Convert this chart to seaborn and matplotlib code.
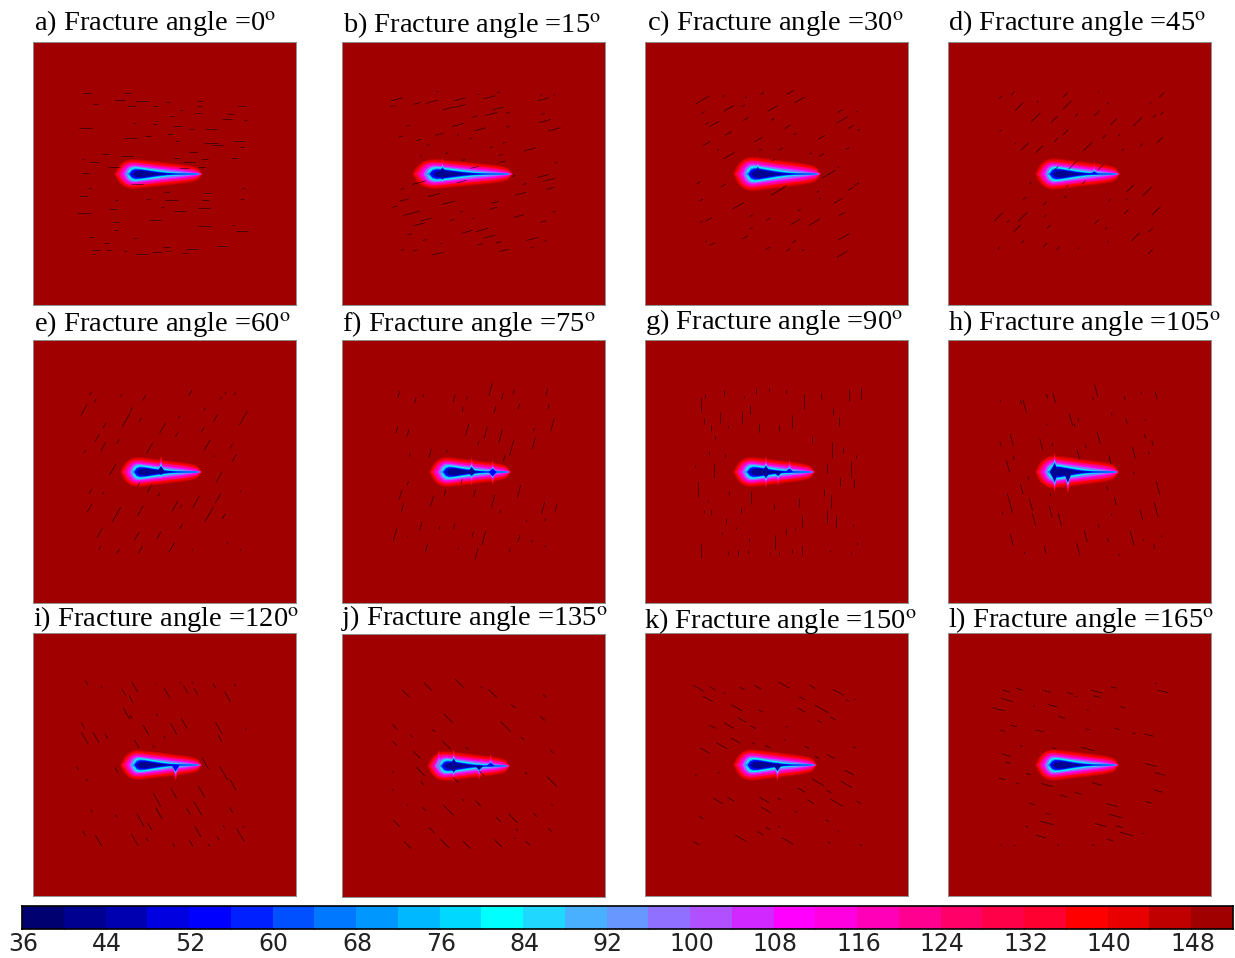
import numpy as np
import matplotlib
matplotlib.use("Agg")
import matplotlib.pyplot as plt
from matplotlib.colors import ListedColormap, BoundaryNorm
import seaborn as sns

# Colour levels of the temperature scale
level_edges = [36, 40, 44, 48, 52, 56, 60, 64, 68, 72, 76, 80, 84, 88, 92, 96, 100, 104,
               108, 112, 116, 120, 124, 128, 132, 136, 140, 144, 148, 152]
level_colors = ['#000070', '#000090', '#0000b0', '#0000e0', '#0000ff', '#0020ff', '#0050ff',
                '#0078ff', '#0098ff', '#00b8ff', '#00d8ff', '#00ffff', '#20d8ff', '#48b0ff',
                '#6898ff', '#9070ff', '#b050ff', '#d028ff', '#ff00ff', '#ff00e0', '#ff00b8',
                '#ff0090', '#ff0068', '#ff0048', '#ff0030', '#ff0000', '#e80000', '#c00000',
                '#a00000']
tick_labels = ['36', '44', '52', '60', '68', '76', '84', '92', '100', '108', '116', '124',
               '132', '140', '148']

# Panel titles
letters = ['a', 'b', 'c', 'd', 'e', 'f', 'g', 'h', 'i', 'j', 'k', 'l']
angles = [0, 15, 30, 45, 60, 75, 90, 105, 120, 135, 150, 165]

# Plume half widths (px) along the plume, one list per temperature level
stations = [0, .02, .05, .08, .11, .14, .17, .2, .24, .3, .4, .5, .6, .7, .8, .9, .95, .98, 1]
plume_levels = {
    146: [0, 5, 8.5, 11, 12.8, 13.9, 14.6, 15, 15, 14.5, 13.5, 12.5, 11.5, 10.5, 9.5, 8, 6.5, 3.5, 0],
    142: [0, 2, 7, 9.7, 11.7, 12.9, 13.6, 14, 14, 13.5, 12.5, 11.5, 10.5, 9.5, 8.5, 7, 5.5, 2.5, 0],
    136: [0, 0, 5, 8.5, 10.7, 12, 12.7, 13, 13, 12.5, 11.5, 10.5, 9.5, 8.5, 7.5, 6, 4.5, 1.5, 0],
    128: [0, 0, 2.5, 6.5, 9.3, 10.8, 11.6, 12, 11.9, 11.3, 10.3, 9.3, 8.3, 7.3, 6.4, 5, 3.5, 1, 0],
    122: [0, 0, 0, 5, 8, 9.9, 10.8, 11.2, 11.1, 10.5, 9.5, 8.5, 7.5, 6.7, 5.7, 4.2, 3, .8, 0],
    114: [0, 0, 0, 0, 5, 7.6, 9, 9.6, 9.6, 9, 8, 7, 6, 5, 4, 2.5, 1.5, .3, 0],
    108: [0, 0, 0, 0, 3, 6.5, 8.2, 8.9, 8.9, 8.2, 7.2, 6.2, 5.2, 4.2, 3.2, 1.8, 1, .2, 0],
    98: [0, 0, 0, 0, 0, 5, 7.2, 8.2, 8.2, 7.6, 6.5, 5.5, 4.5, 3.5, 2.5, 1.2, .8, .2, 0],
    82: [0, 0, 0, 0, 0, 0, 4.5, 6.4, 6.8, 6.3, 5, 3.8, 2.5, 1.6, 1, .6, .4, 0, 0],
    70: [0, 0, 0, 0, 0, 0, 2, 5, 5.7, 5.2, 3.9, 2.7, 1.6, 1, .7, .5, .3, 0, 0],
    54: [0, 0, 0, 0, 0, 0, 0, 3.4, 4.7, 4.5, 3.2, 1.9, 1, .5, .4, .3, .2, 0, 0],
    40: [0, 0, 0, 0, 0, 0, 0, 0, 2.8, 3.5, 2.2, 1, .3, 0, 0, 0, 0, 0, 0],
}

# Outer left end and tip of each plume (px inside the panel), and width factor
plume_left = [81, 70, 88, 87, 87, 87, 88, 87, 87, 85, 88, 87]
plume_tip = [168.5, 170, 175, 171, 168, 168, 169, 170, 168, 167, 171, 170]
plume_width = [1.0, 1.0, 1.15, 1.05, 1.0, 1.0, 1.0, 1.1, 1.0, 1.0, 1.05, 1.05]

# Side spikes of each plume: position along plume, extent up, extent down (px)
plume_spikes = [
    [],
    [(.3, 2, 1)],
    [(.28, 2, 0)],
    [(.7, 2, 0)],
    [(.5, 4, 1)],
    [(.52, 3, 2), (.78, 3, 4)],
    [(.4, 3, 3), (.55, 0, 3), (.69, 3, 0)],
    [(.23, 4, 5), (.39, 0, 7)],
    [(.68, 0, 6)],
    [(.14, 3, 0), (.32, 3, 2), (.63, 0, 3), (.77, 3, 0)],
    [(.53, 0, 4)],
    [],
]

# Fractures: x, y, length in px
frac_a = [(155,160,8),(265,160,7),(245,181,10),(305,184,12),(178,193,5),(275,199,8),(375,186,4),(460,184,6),(340,199,5),(410,210,3),(543,222,7),(575,198,8),(460,197,5),(455,220,6),(385,228,4),(535,238,10),(583,240,3),(345,242,2),(400,258,9),(285,250,3),(152,265,13),(490,268,12),(438,268,5),(340,253,4),(380,283,6),(320,287,6),(272,294,13),(490,309,14),(510,315,12),(565,304,11),(573,322,4),(398,304,4),(442,335,8),(205,342,7),(265,348,12),(145,358,2),(175,367,9),(430,365,12),(555,353,7),(398,355,5),(472,357,7),(230,382,12),(418,385,10),(465,382,7),(153,400,7),(290,433,12),(163,445,3),(145,469,9),(370,455,5),(578,443,3),(480,460,7),(385,481,13),(475,481,7),(575,478,4),(320,478,4),(235,480,3),(148,520,14),(408,513,12),(473,505,12),(225,506,8),(340,541,12),(235,545,6),(473,558,13),(575,572,12),(235,570,4),(168,590,5),(285,595,4),(520,618,10),(440,627,12),(370,622,7),(305,643,12),(345,637,10),(180,631,8),(420,640,6),(375,633,5),(215,630,5),(172,642,3),(260,632,3),(208,610,5),(360,500,3),(550,555,2)]
frac_b = [(990,178,12),(1085,185,13),(1160,178,12),(1240,172,12),(1045,190,7),(1265,157,3),(1100,155,2),(1210,163,2),(980,198,5),(1130,205,12),(1160,198,12),(1265,205,12),(1245,222,12),(1385,178,12),(1415,165,2),(1380,165,2),(1200,230,5),(1290,218,3),(1385,222,3),(1155,255,12),(1215,268,12),(1290,260,4),(1390,243,12),(1415,268,13),(1020,257,3),(1000,290,4),(1050,300,6),(1105,283,8),(1155,285,2),(1190,295,3),(1075,315,3),(1350,328,13),(1280,308,3),(1245,322,3),(1125,340,3),(1170,360,3),(1270,345,4),(1275,365,6),(1420,368,3),(1055,348,2),(1200,382,9),(1305,408,4),(1385,408,12),(1400,420,12),(1335,432,4),(1050,428,14),(1165,425,10),(1090,465,12),(1005,447,4),(1405,445,8),(1325,461,12),(1010,480,9),(1130,488,14),(1255,487,7),(985,500,5),(1250,505,8),(1030,520,17),(1165,515,3),(1320,528,10),(1415,515,3),(1070,538,12),(1050,553,12),(1140,540,4),(1195,535,2),(1385,545,6),(1180,575,11),(1220,570,13),(1025,583,5),(1240,590,12),(1355,597,12),(1390,603,3),(1065,600,4),(1265,607,6),(1215,613,5),(1005,630,3),(1040,631,4),(1100,641,12),(1280,631,10),(1355,622,3),(1110,610,2)]
frac_c = [(168,180,15),(240,205,12),(278,197,4),(330,160,4),(405,157,8),(430,180,12),(358,205,12),(225,168,2),(285,172,2),(170,218,4),(200,252,11),(180,251,4),(285,237,6),(238,280,8),(398,260,7),(358,238,4),(545,240,13),(540,213,6),(585,215,2),(570,260,7),(590,270,3),(490,292,8),(418,282,3),(320,298,10),(180,310,8),(240,347,13),(380,327,5),(325,330,3),(210,330,2),(460,340,3),(490,345,6),(560,325,4),(360,360,4),(510,402,15),(535,382,2),(158,428,4),(225,436,6),(370,455,14),(390,440,5),(480,455,3),(570,445,8),(585,432,5),(165,480,4),(265,497,13),(535,482,10),(485,475,2),(430,510,3),(545,522,7),(185,538,8),(165,545,3),(345,538,4),(420,545,11),(470,547,13),(300,527,3),(283,592,7),(550,590,13),(195,612,6),(178,604,2),(345,625,5),(400,630,5),(440,630,3),(545,643,12),(415,605,5),(300,565,3)]
frac_d = [(1013,160,5),(980,172,4),(1155,165,6),(1245,157,1),(1415,165,7),(1030,200,12),(1080,185,2),(1160,195,12),(1270,190,3),(1385,188,2),(1075,232,13),(1125,238,9),(1185,225,4),(1240,220,8),(1350,245,12),(1395,228,4),(1415,220,4),(1285,245,9),(980,272,3),(1155,277,8),(1260,290,5),(1410,300,9),(1045,320,11),(1130,300,5),(1215,320,13),(1085,327,10),(1020,310,2),(1300,285,3),(1360,315,4),(1310,330,3),(1250,382,8),(1175,375,12),(1130,385,6),(1060,430,3),(1160,438,3),(1205,427,5),(1330,445,10),(1375,455,13),(1045,475,4),(1100,490,5),(1155,470,3),(1320,478,3),(975,530,12),(1040,530,13),(1000,545,3),(1100,528,2),(1275,480,3),(1320,515,6),(1400,513,12),(1240,545,6),(1025,565,10),(1110,560,5),(1265,565,3),(1345,590,12),(1385,570,6),(975,625,3),(1040,605,4),(1100,615,6),(1135,625,5),(1190,625,2),(1270,605,2),(1385,635,6)]
frac_e = [(165,168,4),(178,188,4),(148,215,13),(248,172,3),(310,180,6),(435,165,7),(530,165,2),(555,167,3),(517,180,3),(262,245,16),(275,215,5),(203,262,6),(300,245,4),(360,270,12),(405,237,3),(468,275,5),(503,240,8),(473,214,3),(578,240,16),(183,300,9),(150,340,3),(200,325,10),(240,310,5),(398,290,5),(325,330,12),(480,322,13),(545,325,5),(553,360,8),(500,355,2),(225,395,13),(512,418,12),(295,440,5),(325,450,10),(165,460,6),(200,465,2),(163,510,10),(235,530,18),(410,505,4),(393,505,12),(300,518,12),(450,492,13),(510,480,12),(570,460,2),(485,530,17),(525,535,6),(190,585,11),(290,595,10),(350,592,9),(410,565,6),(190,630,4),(240,640,6),(300,635,8),(385,628,11),(440,635,2),(535,615,2),(570,635,2),(350,470,4)]
frac_f = [(995,170,7),(1040,187,6),(1062,173,3),(1243,155,13),(1275,175,7),(1305,162,6),(1395,162,7),(1145,180,8),(1180,180,3),(1168,215,5),(1255,215,7),(1320,205,6),(1400,205,5),(990,275,7),(1020,285,8),(1180,275,12),(1230,285,12),(1270,295,14),(1410,260,13),(1360,275,3),(1300,330,16),(1360,315,12),(1210,315,4),(1025,350,4),(1080,345,9),(1125,340,3),(1280,360,7),(1020,435,4),(1000,470,10),(1165,430,5),(1120,465,7),(1200,465,8),(1250,490,13),(1320,460,13),(1385,510,12),(1420,510,8),(1005,510,9),(1085,490,11),(1270,520,3),(1390,545,3),(985,590,13),(1055,565,9),(1105,570,3),(1145,565,6),(1195,590,6),(1225,600,14),(1320,600,7),(1355,610,3),(1020,595,2),(1070,630,9),(1205,647,12),(1155,632,2),(1295,637,3),(1390,625,2),(1340,550,2)]
frac_g = [(163,200,15),(175,175,4),(227,165,6),(280,178,2),(312,160,6),(348,155,3),(395,160,3),(442,190,15),(488,175,6),(565,170,12),(595,165,12),(215,240,11),(275,240,11),(297,215,9),(320,270,8),(172,250,6),(192,270,6),(238,267,3),(410,252,13),(375,270,6),(520,220,7),(537,250,9),(465,305,7),(203,300,3),(228,353,3),(518,335,16),(185,345,4),(200,400,14),(148,385,2),(548,335,6),(505,390,10),(582,355,3),(568,395,17),(155,452,16),(240,465,4),(300,480,13),(430,495,9),(497,465,7),(540,432,9),(578,437,9),(183,490,2),(515,490,13),(272,517,6),(190,523,6),(172,520,3),(360,505,5),(233,550,6),(436,550,12),(505,535,13),(530,550,12),(575,562,2),(363,612,14),(395,580,7),(418,572,2),(293,605,4),(165,640,14),(238,645,4),(265,645,6),(292,640,3),(350,645,2),(375,645,4),(410,640,4),(437,637,10),(512,638,2),(570,645,2),(585,615,3),(222,585,2),(260,570,2)]
frac_h = [(1238,158,13),(1045,205,13),(1035,192,5),(1105,175,5),(1125,180,10),(1230,183,3),(1315,180,4),(1360,165,2),(1400,172,8),(980,190,2),(1170,245,13),(1190,245,4),(1180,262,3),(1105,260,2),(1280,228,3),(1320,250,6),(1370,245,2),(1010,305,12),(1090,320,12),(980,318,6),(1245,300,12),(1120,320,3),(1210,325,3),(1370,295,5),(1390,315,5),(1340,345,12),(1380,345,3),(1190,350,10),(1275,365,9),(1015,360,4),(1000,385,12),(1055,420,3),(1340,405,3),(1037,453,11),(1115,470,3),(1268,450,5),(1405,450,14),(1005,495,20),(1062,500,12),(1115,520,12),(1140,545,13),(1070,545,13),(985,525,3),(1290,490,8),(1360,530,11),(1400,515,15),(1280,530,2),(1010,605,12),(1210,595,12),(1245,565,4),(1335,600,15),(1270,605,4),(1395,625,5),(1100,635,8),(1190,635,13),(1045,645,2),(1300,650,2),(1365,605,2),(1415,595,2)]
frac_i = [(155,158,5),(195,170,2),(285,172,12),(255,187,8),(275,208,8),(372,190,12),(422,178,8),(450,185,8),(500,168,5),(535,200,12),(555,165,3),(342,163,1),(408,158,2),(440,158,2),(262,250,13),(275,260,4),(345,255,3),(315,300,12),(390,297,13),(418,280,12),(512,295,14),(145,287,7),(150,325,14),(180,322,13),(208,318,6),(290,342,9),(365,322,3),(515,325,7),(585,298,2),(335,350,3),(130,415,3),(235,420,6),(475,400,13),(525,430,16),(155,450,3),(550,465,13),(345,510,15),(390,490,11),(350,550,13),(465,485,13),(455,535,16),(300,570,15),(325,590,8),(168,542,3),(235,558,3),(430,545,7),(545,540,6),(148,610,5),(187,632,13),(285,630,13),(318,628,4),(390,645,4),(455,605,13),(437,640,7),(485,645,3),(510,625,4),(570,615,15),(525,590,3),(578,590,2)]
frac_j = [(1015,190,12),(1075,170,12),(1160,160,12),(1250,190,12),(1220,172,3),(1390,198,4),(1130,265,13),(1305,228,6),(1385,265,6),(1285,290,15),(985,290,8),(1030,318,3),(1330,325,4),(1090,302,4),(1125,345,11),(985,340,6),(1410,365,6),(1045,375,10),(1180,355,4),(1055,425,12),(980,425,3),(1150,450,7),(1220,430,8),(1340,430,3),(1410,455,14),(980,480,3),(1060,460,5),(1130,540,15),(1065,537,5),(1210,520,8),(1305,565,13),(1265,568,7),(1365,555,5),(990,580,10),(1085,600,8),(1020,645,10),(1120,640,13),(1180,645,11),(1265,640,11),(1345,640,6),(1405,600,5),(1315,600,3),(1020,525,2),(1170,510,3),(1410,525,2),(1310,625,2)]
frac_k = [(158,175,12),(195,175,7),(275,175,6),(318,172,8),(388,165,12),(465,170,7),(535,187,12),(183,207,11),(228,190,2),(260,233,13),(325,243,5),(438,205,7),(435,240,9),(490,237,16),(520,265,6),(560,212,3),(580,208,2),(275,270,10),(240,287,11),(305,292,6),(195,290,7),(485,275,4),(395,290,2),(258,332,11),(305,340,3),(345,350,6),(220,347,12),(450,352,5),(578,352,3),(175,362,11),(390,330,2),(515,380,8),(478,382,5),(565,428,11),(150,435,2),(212,428,2),(480,457,14),(435,480,8),(557,463,13),(510,485,5),(210,513,11),(245,508,8),(335,510,11),(375,507,4),(460,515,8),(530,518,15),(590,517,5),(340,540,12),(165,563,5),(420,545,3),(505,572,4),(345,595,5),(325,610,7),(272,625,13),(398,633,13),(152,640,7),(595,645,3),(510,638,3),(535,603,2),(375,590,2)]
frac_l = [(995,183,8),(1032,178,7),(1105,184,8),(1168,190,6),(1240,185,12),(1240,200,7),(1285,172,6),(1418,184,11),(1400,160,2),(997,210,12),(975,238,13),(1120,227,10),(1070,228,2),(1145,262,7),(1310,232,5),(1185,200,2),(1215,240,2),(1015,288,7),(985,302,5),(1085,303,8),(1215,298,4),(1295,297,5),(1380,315,10),(1035,348,3),(995,375,10),(1215,357,14),(1125,355,4),(1340,310,3),(1385,405,12),(1410,432,10),(1000,398,5),(1055,432,5),(985,447,7),(1105,465,12),(1025,460,3),(1240,462,10),(1190,490,7),(1150,498,7),(1405,483,9),(1380,517,7),(1280,525,12),(1065,522,6),(1110,552,5),(1290,558,14),(1105,579,14),(1250,585,12),(1300,590,7),(1320,612,14),(1090,620,11),(1275,630,6),(1135,645,2),(1230,645,3),(1050,590,3),(980,645,2),(1020,647,2),(1365,610,2)]
fractures = [frac_a, frac_b, frac_c, frac_d, frac_e, frac_f, frac_g, frac_h, frac_i, frac_j, frac_k, frac_l]

# Offset of each panel's corner in the enlarged crops the fractures were read from
crop_x0 = [10, 842, 13, 838, 10, 842, 13, 838, 10, 843, 13, 838]
crop_y0 = [6, 6, 6, 6, 6, 6, 6, 6, 9, 12, 9, 9]

# Panel and title positions in px
panel_x = [33, 342, 645, 948, 33, 342, 645, 948, 33, 342, 645, 948]
panel_y = [42, 42, 42, 42, 340, 340, 340, 340, 633, 634, 633, 633]
title_x = [34, 343, 647, 948, 34, 342, 645, 948, 33, 341, 644, 948]
title_y = [30, 32, 30, 30, 331, 331, 329, 330, 626, 625, 628, 627]

W, H = 1235, 958
PANEL = 263

sns.set_theme(style='white')
plt.rcParams['font.family'] = ['Liberation Serif', 'DejaVu Serif']
plt.rcParams['mathtext.fontset'] = 'stix'

cmap = ListedColormap(level_colors)
norm = BoundaryNorm(level_edges, cmap.N)
fig = plt.figure(figsize=(W / 100, H / 100), dpi=100)


def px_axes(x, y, w, h):
    return fig.add_axes([x / W, 1 - (y + h) / H, w / W, h / H])


for i in range(12):
    ax = px_axes(panel_x[i], panel_y[i], PANEL, PANEL)
    # background field, one cell per px
    sns.heatmap(np.full((PANEL, PANEL), 150.0), cmap=cmap, norm=norm, cbar=False,
                xticklabels=False, yticklabels=False, ax=ax)

    # plume as nested temperature levels
    left, tip, scale = plume_left[i], plume_tip[i], plume_width[i]
    length = tip - left
    cy = PANEL / 2
    xs = left + np.array(stations) * length
    for level, half in plume_levels.items():
        half = np.array(half) * scale
        color = cmap(norm(level))
        ax.fill_between(xs, cy - half, cy + half, color=color, lw=0)
        for pos, up, down in plume_spikes[i]:
            h0 = half[np.argmin(np.abs(np.array(stations) - pos))]
            if h0 <= 0:
                continue
            sx = left + np.array([pos - .05, pos, pos + .05]) * length
            ax.fill_between(sx, [cy, cy - h0 - up, cy], [cy, cy + h0 + down, cy], color=color, lw=0)

    # fractures at the panel's angle
    rad = np.deg2rad(angles[i])
    for fx, fy, flen in fractures[i]:
        x0 = (fx - crop_x0[i]) / 2.7
        y0 = (fy - crop_y0[i]) / 3
        dx = flen / 2 * np.cos(rad)
        dy = flen / 2 * np.sin(rad)
        ax.plot([x0 - dx, x0 + dx], [y0 + dy, y0 - dy], color='#150000', lw=0.55, alpha=0.75,
                solid_capstyle='butt')

    ax.set_xlim(0, PANEL)
    ax.set_ylim(PANEL, 0)
    for spine in ax.spines.values():
        spine.set_visible(True)
        spine.set_color('#909090')
        spine.set_linewidth(0.7)

    fig.text(title_x[i] / W, 1 - title_y[i] / H,
             f'{letters[i]}) Fracture angle ={angles[i]}$^{{\\mathrm{{o}}}}$',
             fontsize=20.5, color='black', ha='left', va='baseline')

# Colour scale along the bottom
cax = px_axes(22, 906, 1211, 23)
sns.heatmap(np.array(level_edges[:-1]).reshape(1, -1) + 2.0, cmap=cmap, norm=norm, cbar=False,
            xticklabels=False, yticklabels=False, ax=cax)
for spine in cax.spines.values():
    spine.set_visible(True)
    spine.set_color('black')
    spine.set_linewidth(1.2)
cax.set_xticks(np.arange(0, len(level_colors)), labels=[])
cax.tick_params(axis='x', which='major', direction='in', length=3, width=1, color='black',
                bottom=True, top=True, pad=3)
for label, pos in zip(tick_labels, np.arange(0, len(level_colors), 2)):
    cax.text(pos + .03, 1.11, label, family='DejaVu Sans', fontsize=17, color='#222222', ha='center',
             va='top', clip_on=False)

fig.savefig('out.png', dpi=100)
